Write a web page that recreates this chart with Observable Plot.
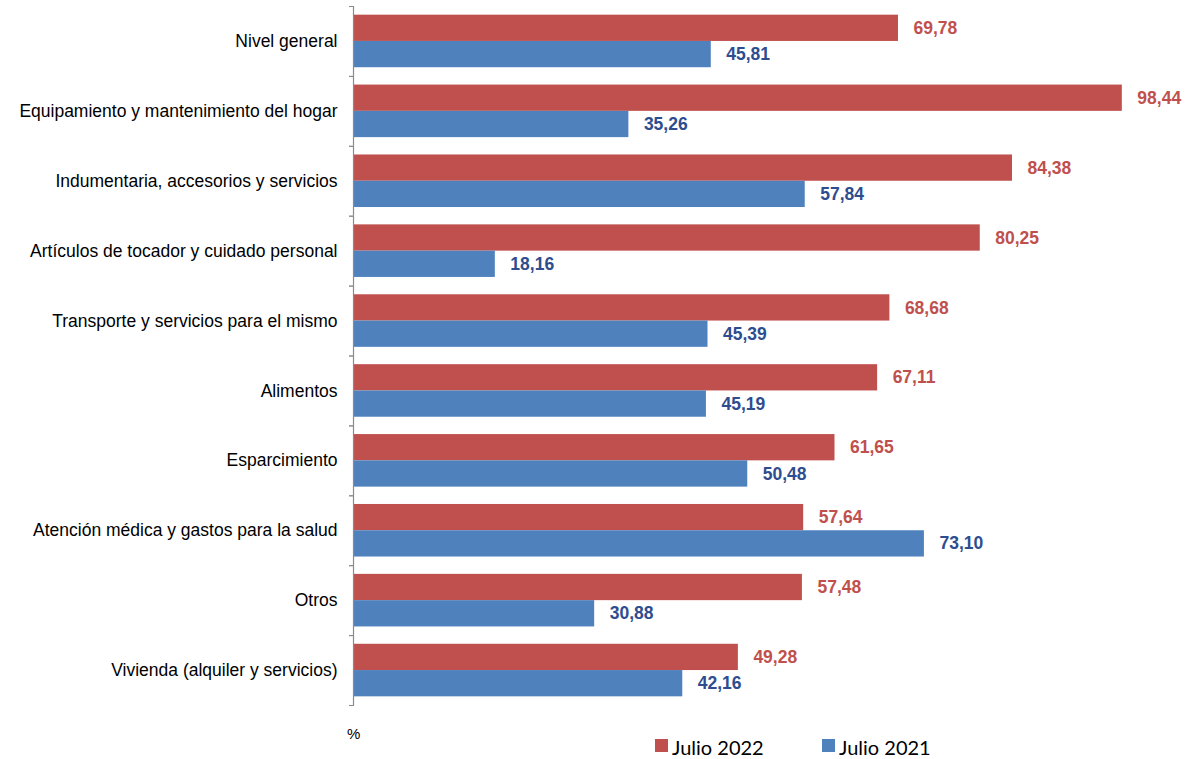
<!DOCTYPE html>
<html>
<head>
<meta charset="utf-8">
<script src="https://cdn.jsdelivr.net/npm/d3@7"></script>
<script src="https://cdn.jsdelivr.net/npm/@observablehq/plot@0.6"></script>
<style>
  body { margin: 0; background: #fff; }
  #wrap { width: 1186px; position: relative; }
  svg { display: block; }
</style>
</head>
<body>
<div id="wrap"></div>
<script>
const categories = [
  "Nivel general",
  "Equipamiento y mantenimiento del hogar",
  "Indumentaria, accesorios y servicios",
  "Artículos de tocador y cuidado personal",
  "Transporte y servicios para el mismo",
  "Alimentos",
  "Esparcimiento",
  "Atención médica y gastos para la salud",
  "Otros",
  "Vivienda (alquiler y servicios)"
];
const series = ["Julio 2022", "Julio 2021"];
const values2022 = [69.78, 98.44, 84.38, 80.25, 68.68, 67.11, 61.65, 57.64, 57.48, 49.28];
const values2021 = [45.81, 35.26, 57.84, 18.16, 45.39, 45.19, 50.48, 73.10, 30.88, 42.16];
const barColors = ["#C0504D", "#4F81BD"];
const labelColors = ["#C0504D", "#2E4D8F"];
const unitLabel = "%";

const data = [];
categories.forEach((c, i) => {
  data.push({category: c, series: series[0], value: values2022[i]});
  data.push({category: c, series: series[1], value: values2021[i]});
});
const fmt = v => v.toFixed(2).replace(".", ",");

const W = 1186, H = 718, mL = 353, mR = 52, mT = 6, mB = 13;

const chart = Plot.plot({
  width: W,
  height: H,
  marginLeft: mL,
  marginRight: mR,
  marginTop: mT,
  marginBottom: mB,
  style: {fontFamily: "'Liberation Sans', Arial, sans-serif", background: "#fff", overflow: "visible"},
  x: {domain: [0, 100], axis: null},
  y: {domain: series, paddingInner: 0, paddingOuter: 0.33, round: false, axis: null},
  fy: {domain: categories, padding: 0, round: false},
  color: {domain: series, range: barColors},
  marks: [
    Plot.axisFy({anchor: "left", tickSize: 0, tickPadding: 16, fontSize: 17.5, label: null, fill: "#000"}),
    Plot.barX(data, {x: "value", y: "series", fy: "category", fill: "series"}),
    Plot.text(data.filter(d => d.series === series[0]), {
      x: "value", y: "series", fy: "category", text: d => fmt(d.value),
      textAnchor: "start", dx: 15, fontWeight: "bold", fontSize: 17.5, fill: labelColors[0]
    }),
    Plot.text(data.filter(d => d.series === series[1]), {
      x: "value", y: "series", fy: "category", text: d => fmt(d.value),
      textAnchor: "start", dx: 15, fontWeight: "bold", fontSize: 17.5, fill: labelColors[1]
    }),
    Plot.ruleX([0], {stroke: "#8a8a8a", strokeWidth: 1.2}),
    Plot.frame({anchor: "top", stroke: "#8a8a8a", insetLeft: -4, insetRight: W - mL - mR}),
    Plot.frame({anchor: "bottom", stroke: "#8a8a8a", insetLeft: -4, insetRight: W - mL - mR})
  ]
});
const wrap = document.getElementById("wrap");
wrap.appendChild(chart);

// legend + unit label below the chart
const ns = "http://www.w3.org/2000/svg";
const leg = document.createElementNS(ns, "svg");
leg.setAttribute("width", W);
leg.setAttribute("height", 41);
function addText(x, y, s, attrs) {
  const t = document.createElementNS(ns, "text");
  t.setAttribute("x", x); t.setAttribute("y", y);
  for (const k in attrs) t.setAttribute(k, attrs[k]);
  t.textContent = s;
  leg.appendChild(t);
}
function addRect(x, y, w, h, fill) {
  const r = document.createElementNS(ns, "rect");
  r.setAttribute("x", x); r.setAttribute("y", y);
  r.setAttribute("width", w); r.setAttribute("height", h);
  r.setAttribute("fill", fill);
  leg.appendChild(r);
}
addText(347, 21, unitLabel, {"font-family": "'Liberation Sans', Arial, sans-serif", "font-size": 15, fill: "#000"});
const legX = [655, 822];
series.forEach((s, i) => {
  addRect(legX[i], 21, 13, 13, barColors[i]);
  addText(legX[i] + 17, 37, s, {"font-family": "Lato, 'Open Sans', sans-serif", "font-size": 20, fill: "#000"});
});
wrap.appendChild(leg);
</script>
</body>
</html>
